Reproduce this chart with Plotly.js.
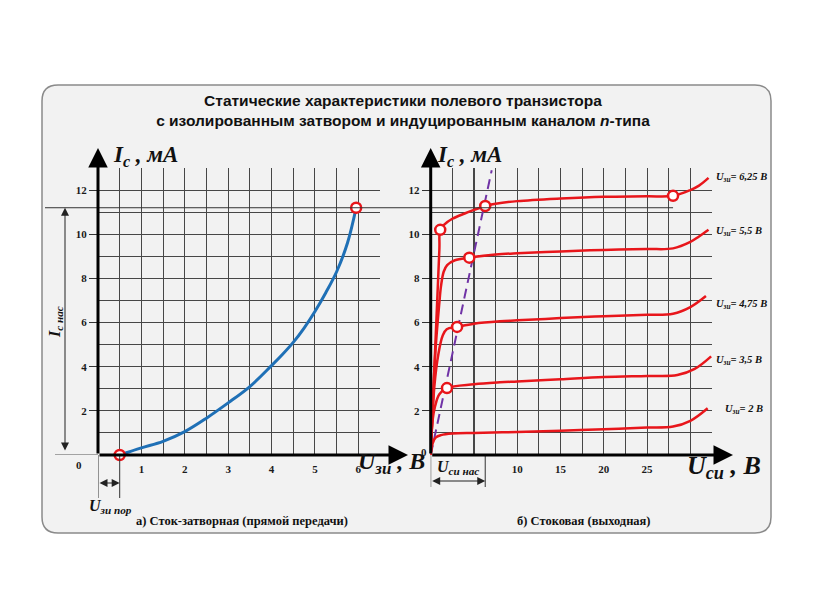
<!DOCTYPE html>
<html><head><meta charset="utf-8">
<script src="https://cdn.plot.ly/plotly-3.0.1.min.js"></script>
<style>html,body{margin:0;padding:0;background:#fff}#chart{width:816px;height:613px}</style>
</head><body><div id="chart"></div>
<script>
// ---------- data ----------
const leftUgs = [0.5, 1, 1.5, 2, 2.5, 3, 3.5, 4, 4.25, 4.5, 4.75, 5, 5.25, 5.5, 5.75, 5.95];
const leftIc  = [0, 0.32, 0.62, 1.06, 1.67, 2.36, 3.1, 4.05, 4.55, 5.1, 5.75, 6.5, 7.35, 8.3, 9.6, 11.2];
const leftMarkX = [0.5, 5.95];
const leftMarkY = [0, 11.2];
const uThr = 0.5;      // U зи пор
const icNas = 11.2;    // I c нас
const uSiNas = 6.3;    // U си нас

const ugsLabels = ['6,25', '5,5', '4,75', '3,5', '2'];
const u625x = [0, 1.0, 1.1, 1.6, 2.5, 4, 5, 6.3, 7.5, 10, 15, 20, 25, 28, 30, 31, 32.1];
const u625y = [0, 9.3, 10.2, 10.45, 10.7, 10.95, 11.1, 11.28, 11.38, 11.5, 11.62, 11.7, 11.72, 11.74, 12.0, 12.2, 12.55];
const u55x  = [0, 0.53, 1.0, 1.19, 1.5, 1.9, 2.8, 4.46, 7.5, 10, 15, 20, 25, 28, 30, 31, 32.1];
const u55y  = [0, 4.6, 6.9, 7.65, 8.3, 8.6, 8.82, 8.94, 9.08, 9.14, 9.22, 9.29, 9.33, 9.36, 9.65, 9.9, 10.2];
const u475x = [0, 0.42, 0.9, 1.38, 1.85, 3.05, 5, 8, 10, 15, 20, 25, 28, 30, 31.8];
const u475y = [0, 3.1, 4.6, 5.4, 5.7, 5.8, 5.95, 6.06, 6.1, 6.2, 6.29, 6.35, 6.4, 6.7, 7.2];
const u35x  = [0, 0.23, 0.5, 1.0, 1.88, 5, 8, 10, 15, 20, 25, 28.5, 30.5, 32.4];
const u35y  = [0, 1.6, 2.2, 2.75, 3.03, 3.2, 3.29, 3.33, 3.43, 3.53, 3.58, 3.62, 3.9, 4.47];
const u2x   = [0, 0.25, 0.6, 1.2, 2.5, 5, 10, 15, 20, 25, 28, 30, 32];
const u2y   = [0, 0.55, 0.8, 0.9, 0.97, 1.0, 1.04, 1.1, 1.17, 1.24, 1.29, 1.55, 2.12];
const satX = [0, 7.05];
const satY = [0, 12.9];
const satMarkX = [1.1, 6.3, 28, 4.46, 3.05, 1.88];
const satMarkY = [10.2, 11.28, 11.74, 8.94, 5.8, 3.03];
const leftTicks = [1, 2, 3, 4, 5, 6];
const rightTicks = [10, 15, 20, 25];
const yTicks = [2, 4, 6, 8, 10, 12];

// ---------- geometry helpers ----------
const W = 816, H = 613;
const px = v => v / W, py = v => 1 - v / H;
const L = {x0: 98, x1: 380, max: 6.5};
const R = {x0: 430.7, x1: 712, max: 32.5};
const Y = {y0: 455, y1: 168, max: 13};
const kL = (L.x1 - L.x0) / L.max, kR = (R.x1 - R.x0) / R.max, kY = (Y.y0 - Y.y1) / Y.max;

const RED = '#e8161b', BLUE = '#1f70b6', PURPLE = '#7033a6', GRID = '#474747';
const serif = 'Liberation Serif, Times New Roman, serif';
const tickFont = {family: serif, size: 11, weight: 'bold', color: '#1a1a1a'};
const axTitleFont = s => ({family: serif, size: s, weight: 'bold', style: 'italic', color: '#111'});

const line = (x, y, color, w, extra) => Object.assign({x, y, mode: 'lines', line: {color, width: w, shape: 'spline', smoothing: 1}, hoverinfo: 'skip', cliponaxis: false}, extra || {});
const marks = (x, y, xa, ya) => ({x, y, xaxis: xa, yaxis: ya, mode: 'markers', cliponaxis: false, hoverinfo: 'skip',
  marker: {symbol: 'circle', size: 10, color: '#ffffff', line: {color: RED, width: 2.5}}});

const traces = [
  line(leftUgs, leftIc, BLUE, 3, {xaxis: 'x', yaxis: 'y'}),
  marks(leftMarkX, leftMarkY, 'x', 'y'),
  line(satX, satY, PURPLE, 2, {xaxis: 'x2', yaxis: 'y2', line: {color: PURPLE, width: 2, dash: '10px,6px'}}),
  line(u625x, u625y, RED, 2.5, {xaxis: 'x2', yaxis: 'y2'}),
  line(u55x, u55y, RED, 2.5, {xaxis: 'x2', yaxis: 'y2'}),
  line(u475x, u475y, RED, 2.5, {xaxis: 'x2', yaxis: 'y2'}),
  line(u35x, u35y, RED, 2.5, {xaxis: 'x2', yaxis: 'y2'}),
  line(u2x, u2y, RED, 2.5, {xaxis: 'x2', yaxis: 'y2'}),
  marks(satMarkX, satMarkY, 'x2', 'y2')
];

const xAxisBase = (dom, max, ticks, minorStep, anchor) => ({
  domain: [px(dom[0]), px(dom[1])], range: [0, max], anchor,
  tickmode: 'array', tickvals: ticks, ticktext: ticks.map(String), ticks: '',
  ticklabelstandoff: 6, tickfont: tickFont,
  showgrid: true, gridcolor: GRID, gridwidth: 1.1,
  minor: {tickmode: 'linear', tick0: 0, dtick: minorStep, showgrid: true, gridcolor: GRID, gridwidth: 1.1, ticks: ''},
  zeroline: false, showline: false, fixedrange: true
});
const yAxisBase = (anchor) => ({
  domain: [py(Y.y0), py(Y.y1)], range: [0, Y.max], anchor,
  tickmode: 'array', tickvals: yTicks, ticktext: yTicks.map(String),
  ticks: 'outside', ticklen: 8, tickwidth: 1, tickcolor: '#333', tickfont: tickFont,
  showgrid: true, gridcolor: GRID, gridwidth: 1.1,
  minor: {tickmode: 'linear', tick0: 0, dtick: 1, showgrid: true, gridcolor: GRID, gridwidth: 1.1, ticks: ''},
  zeroline: false, showline: false, fixedrange: true
});

// rounded frame
const fx0 = 42, fx1 = 771, fy0 = 85, fy1 = 533, rr = 16;
const P = (x, y) => `${px(x)},${py(y)}`;
const framePath = `M${P(fx0 + rr, fy0)} L${P(fx1 - rr, fy0)} Q${P(fx1, fy0)} ${P(fx1, fy0 + rr)} L${P(fx1, fy1 - rr)} Q${P(fx1, fy1)} ${P(fx1 - rr, fy1)} L${P(fx0 + rr, fy1)} Q${P(fx0, fy1)} ${P(fx0, fy1 - rr)} L${P(fx0, fy0 + rr)} Q${P(fx0, fy0)} ${P(fx0 + rr, fy0)} Z`;

const thin = {color: '#333', width: 1};
const shapes = [
  {type: 'path', xref: 'paper', yref: 'paper', path: framePath, fillcolor: '#f2f2f2', line: {color: '#8a8a8a', width: 1.5}, layer: 'below'},
  {type: 'line', xref: 'paper', yref: 'y', x0: px(45), x1: px(R.x0 + 28 * kR), y0: icNas, y1: icNas, line: thin},
  {type: 'line', xref: 'paper', yref: 'y', x0: px(55), x1: px(L.x0), y0: 0, y1: 0, line: {color: '#555', width: 1}},
  {type: 'line', xref: 'x', yref: 'paper', x0: 0, x1: 0, y0: py(Y.y0), y1: py(498), line: thin},
  {type: 'line', xref: 'x', yref: 'paper', x0: uThr, x1: uThr, y0: py(Y.y0), y1: py(498), line: thin},
  {type: 'line', xref: 'x2', yref: 'paper', x0: 0, x1: 0, y0: py(Y.y0), y1: py(487), line: thin},
  {type: 'line', xref: 'x2', yref: 'paper', x0: uSiNas, x1: uSiNas, y0: py(Y.y0), y1: py(487), line: thin}
];

const axisArrow = (xr, yr, hx, hy) => ({xref: xr, yref: yr, axref: xr, ayref: yr, x: hx, y: hy, ax: 0, ay: 0,
  text: '', showarrow: true, arrowhead: 2, arrowsize: 1.3, arrowwidth: 3, arrowcolor: '#000', standoff: 0, startstandoff: 0});
const txt = (x, y, text, font, extra) => Object.assign({xref: 'paper', yref: 'paper', x: px(x), y: py(y), text, font, showarrow: false, xanchor: 'center', yanchor: 'middle'}, extra || {});
const dbl = (o) => Object.assign({text: '', showarrow: true, arrowside: 'end+start', arrowhead: 2, startarrowhead: 2, arrowsize: 1.6, startarrowsize: 1.6, arrowwidth: 1, arrowcolor: '#222', standoff: 0, startstandoff: 0}, o);

const labelY = [177, 231, 304, 360, 410];
const labelX = [714, 714, 714, 714, 723];

const annotations = [
  axisArrow('x', 'y', 0, (Y.y0 - 148) / kY),
  axisArrow('x', 'y', (408 - L.x0) / kL, 0),
  axisArrow('x2', 'y2', 0, (Y.y0 - 148) / kY),
  axisArrow('x2', 'y2', (733 - R.x0) / kR, 0),
  dbl({xref: 'paper', yref: 'y', x: px(65), y: icNas, ax: 0, ay: icNas * kY - 3}),
  dbl({xref: 'x', yref: 'paper', x: uThr, y: py(483), ax: -uThr * kL, ay: 0}),
  dbl({xref: 'x2', yref: 'paper', x: uSiNas, y: py(481), ax: -uSiNas * kR, ay: 0}),
  txt(145, 156, 'I<sub>c</sub> , мА', axTitleFont(23)),
  txt(470, 156, 'I<sub>c</sub> , мА', axTitleFont(23)),
  txt(391, 463, 'U<sub>зи</sub> , В', axTitleFont(24)),
  txt(724, 467, 'U<sub>си</sub> , В', axTitleFont(26)),
  txt(110, 506, 'U<sub>зи пор</sub>', axTitleFont(16)),
  txt(458, 467, 'U<sub>си нас</sub>', axTitleFont(16)),
  txt(55, 322, 'I<sub>c нас</sub>', axTitleFont(16), {textangle: -90}),
  txt(79, 465, '0', tickFont),
  txt(424, 452, '0', tickFont),
  txt(242, 521, 'а) Сток-затворная (прямой передачи)', {family: serif, size: 12.5, weight: 'bold', color: '#111'}),
  txt(584, 521, 'б) Стоковая (выходная)', {family: serif, size: 12.5, weight: 'bold', color: '#111'})
].concat(ugsLabels.map((s, i) => txt(labelX[i], labelY[i], 'U<sub>зи</sub>= ' + s + ' В',
  {family: serif, size: 10.5, weight: 'bold', style: 'italic', color: '#111'}, {xanchor: 'left'})));

const layout = {
  width: W, height: H,
  margin: {l: 0, r: 0, t: 0, b: 0},
  paper_bgcolor: '#ffffff', plot_bgcolor: 'rgba(0,0,0,0)',
  showlegend: false,
  title: {text: 'Статические характеристики полевого транзистора<br>с изолированным затвором и индуцированным каналом <i>n</i>-типа',
    x: px(403), y: py(106), xref: 'paper', yref: 'paper', xanchor: 'center', yanchor: 'middle',
    font: {family: 'Liberation Sans, Arial, sans-serif', size: 15.5, weight: 'bold', color: '#111'}},
  xaxis: xAxisBase([L.x0, L.x1], L.max, leftTicks, 0.5, 'y'),
  yaxis: yAxisBase('x'),
  xaxis2: xAxisBase([R.x0, R.x1], R.max, rightTicks, 2.5, 'y2'),
  yaxis2: yAxisBase('x2'),
  shapes, annotations
};

Plotly.newPlot('chart', traces, layout, {staticPlot: true, displayModeBar: false});
</script>
</body></html>
